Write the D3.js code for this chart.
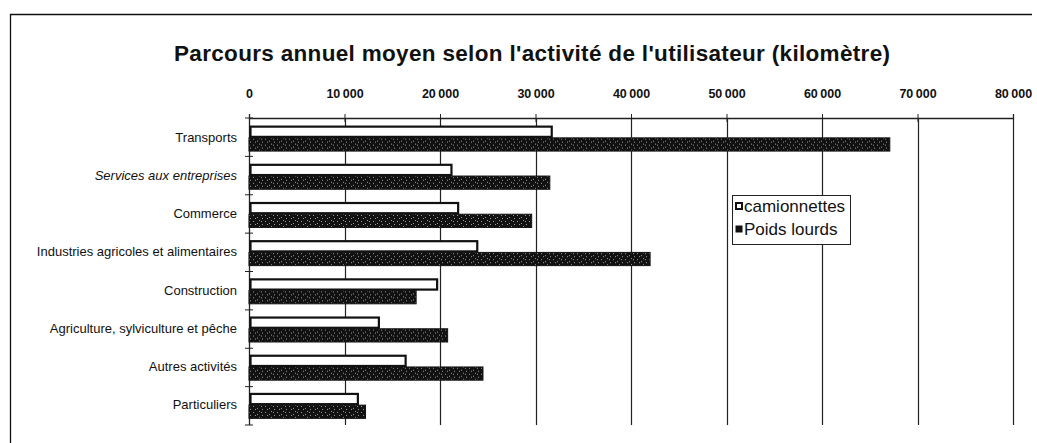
<!DOCTYPE html>
<html lang="fr">
<head>
<meta charset="utf-8">
<script src="https://cdn.jsdelivr.net/npm/d3@7"></script>
<style>
  html, body { margin: 0; padding: 0; background: #fff; }
  svg { display: block; font-family: "Liberation Sans", Arial, sans-serif; }
</style>
</head>
<body>
<div id="chart"></div>
<script>
// Données
const categories = [
  "Transports",
  "Services aux entreprises",
  "Commerce",
  "Industries agricoles et alimentaires",
  "Construction",
  "Agriculture, sylviculture et pêche",
  "Autres activités",
  "Particuliers"
];
const camionnettes = [31700, 21200, 21900, 23900, 19700, 13600, 16400, 11400];
const poidsLourds = [67100, 31500, 29600, 42000, 17500, 20800, 24500, 12200];
const tickValues = [0, 10000, 20000, 30000, 40000, 50000, 60000, 70000, 80000];
const seriesNames = ["camionnettes", "Poids lourds"];

const width = 1037, height = 443;
const plot = { left: 249, right: 1013, top: 118, bottom: 425 };

const svg = d3.select("#chart").append("svg")
  .attr("width", width)
  .attr("height", height);

// motif moucheté des barres sombres
const defs = svg.append("defs");
const pat = defs.append("pattern")
  .attr("id", "speckle")
  .attr("patternUnits", "userSpaceOnUse")
  .attr("width", 12).attr("height", 6);
pat.append("rect").attr("width", 12).attr("height", 6).attr("fill", "#111");
[[1, 1], [5, 3], [9, 1], [3, 4], [10, 4], [7, 0]].forEach(([x, y]) => {
  pat.append("rect").attr("x", x).attr("y", y)
    .attr("width", 1).attr("height", 1).attr("fill", "#9a9a9a");
});

// cadre extérieur (haut et gauche)
svg.append("line")
  .attr("x1", 10).attr("x2", 1032).attr("y1", 14.5).attr("y2", 14.5)
  .attr("stroke", "#111").attr("stroke-width", 1.3);
svg.append("line")
  .attr("x1", 10.5).attr("x2", 10.5).attr("y1", 14).attr("y2", height)
  .attr("stroke", "#111").attr("stroke-width", 1.3);

// titre
svg.append("text")
  .attr("x", 532).attr("y", 61)
  .attr("text-anchor", "middle")
  .attr("font-size", 22.5)
  .attr("font-weight", "bold")
  .attr("textLength", 716)
  .attr("lengthAdjust", "spacing")
  .attr("fill", "#111")
  .text("Parcours annuel moyen selon l'activité de l'utilisateur (kilomètre)");

const x = d3.scaleLinear().domain([0, 80000]).range([plot.left, plot.right]);
const y = d3.scaleBand().domain(categories).range([plot.top, plot.bottom])
  .paddingInner(0.36).paddingOuter(0.2);
const ySub = d3.scaleBand().domain(seriesNames).range([0, y.bandwidth()]);

// grille verticale
svg.append("g")
  .selectAll("line")
  .data(tickValues.slice(1))
  .join("line")
  .attr("x1", d => Math.round(x(d)) + 0.5)
  .attr("x2", d => Math.round(x(d)) + 0.5)
  .attr("y1", plot.top)
  .attr("y2", plot.bottom)
  .attr("stroke", "#222")
  .attr("stroke-width", 1.2);

// axe du haut
const fmt = d => d3.format(",")(d).replace(/,/g, "\u2009");
const xAxis = svg.append("g")
  .attr("transform", `translate(0,${plot.top})`)
  .call(d3.axisTop(x).tickValues(tickValues).tickSize(4).tickFormat(fmt));
xAxis.select(".domain").attr("stroke", "#222").attr("stroke-width", 1.3);
xAxis.selectAll(".tick line").attr("y2", 4).attr("y1", -4).attr("stroke", "#222");
xAxis.selectAll(".tick text")
  .attr("y", -20)
  .attr("font-size", 12.5)
  .attr("font-weight", "bold")
  .attr("fill", "#111")
  .attr("font-family", "'Liberation Sans', Arial, sans-serif");

// axe de gauche
const sep = d3.range(categories.length + 1)
  .map(i => plot.top + i * (plot.bottom - plot.top) / categories.length);
const yAxis = svg.append("g");
yAxis.append("line")
  .attr("x1", plot.left + 0.5).attr("x2", plot.left + 0.5)
  .attr("y1", plot.top).attr("y2", plot.bottom)
  .attr("stroke", "#222").attr("stroke-width", 1.3);
yAxis.selectAll(".sep")
  .data(sep)
  .join("line")
  .attr("class", "sep")
  .attr("x1", plot.left - 4).attr("x2", plot.left + 4)
  .attr("y1", d => d).attr("y2", d => d)
  .attr("stroke", "#222");

svg.append("g")
  .selectAll("text")
  .data(categories)
  .join("text")
  .attr("x", 237)
  .attr("y", d => y(d) + y.bandwidth() / 2 + 4)
  .attr("text-anchor", "end")
  .attr("font-size", 13)
  .attr("font-style", d => d === "Services aux entreprises" ? "italic" : "normal")
  .attr("fill", "#111")
  .text(d => d);

// barres
const rows = categories.map((c, i) => ({ cat: c, values: [camionnettes[i], poidsLourds[i]] }));
const groups = svg.append("g")
  .selectAll("g")
  .data(rows)
  .join("g")
  .attr("transform", d => `translate(0,${y(d.cat)})`);

groups.append("rect")
  .attr("x", x(0) + 1.5)
  .attr("y", ySub("camionnettes") + 1)
  .attr("width", d => x(d.values[0]) - x(0) - 1.5)
  .attr("height", ySub.bandwidth() - 2)
  .attr("fill", "#fff")
  .attr("stroke", "#111")
  .attr("stroke-width", 2.2);

groups.append("rect")
  .attr("x", x(0))
  .attr("y", ySub("Poids lourds"))
  .attr("width", d => x(d.values[1]) - x(0))
  .attr("height", ySub.bandwidth() + 1)
  .attr("fill", "url(#speckle)")
  .attr("stroke", "#111")
  .attr("stroke-width", 1);

// légende
const legend = svg.append("g").attr("transform", "translate(732,195)");
legend.append("rect")
  .attr("x", 0.5).attr("y", 0.5)
  .attr("width", 118).attr("height", 49)
  .attr("fill", "#fff")
  .attr("stroke", "#222");
seriesNames.forEach((name, i) => {
  const ly = 8 + i * 23;
  legend.append("rect")
    .attr("x", 4).attr("y", ly)
    .attr("width", 6).attr("height", 6)
    .attr("fill", i === 0 ? "#fff" : "#111")
    .attr("stroke", "#111")
    .attr("stroke-width", i === 0 ? 2 : 1);
  legend.append("text")
    .attr("x", 12).attr("y", ly + 9)
    .attr("font-size", 17)
    .attr("fill", "#111")
    .text(name);
});
</script>
</body>
</html>
